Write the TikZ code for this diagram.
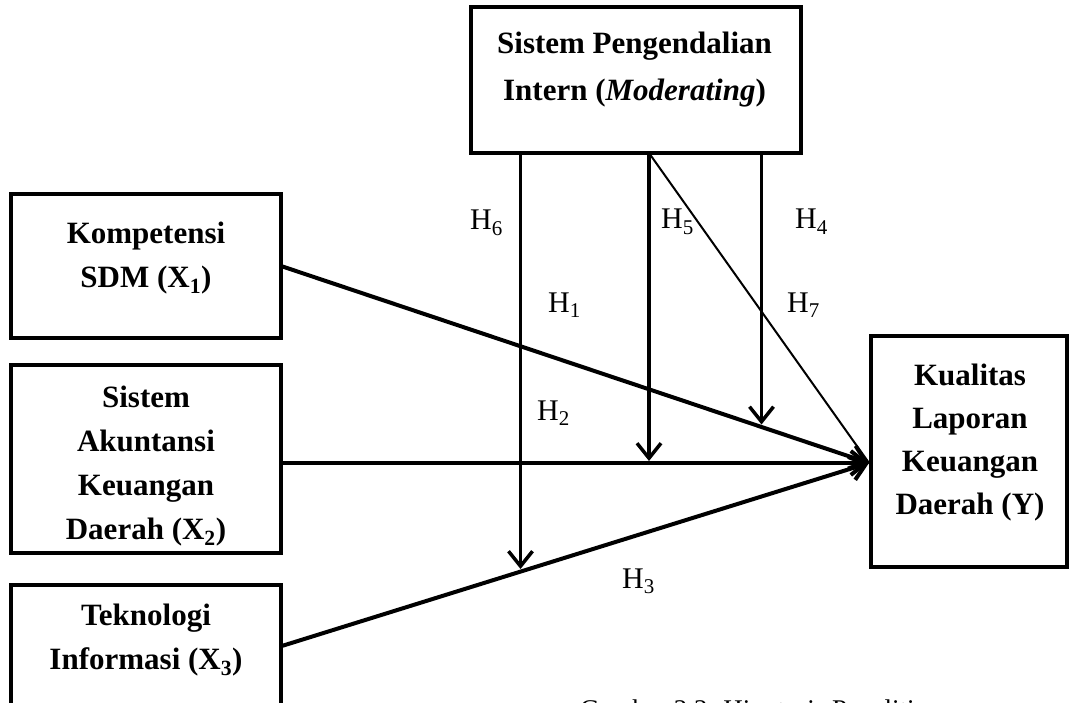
\documentclass[tikz,border=0pt]{standalone}
\usepackage{fontspec}
\setmainfont{Liberation Serif}
\usetikzlibrary{arrows.meta}
\tikzset{
  box/.style={draw, line width=4pt, outer sep=0pt, inner sep=0pt, rectangle},
  boxtext/.style={align=center, inner sep=0pt, font=\bfseries\fontsize{31}{44}\selectfont},
  hlab/.style={anchor=base west, inner sep=0pt, font=\fontsize{30}{36}\selectfont},
  mainarrow/.style={line width=4pt, -{Straight Barb[length=15pt,width=24pt]}},
  modarrow/.style={line width=3.5pt, -{Straight Barb[length=15pt,width=24pt]}},
  thinline/.style={line width=2pt}
}
\begin{document}
\begin{tikzpicture}[x=1pt,y=-1pt]
\useasboundingbox (0,0) rectangle (1070,703);
\clip (0,0) rectangle (1070,703);
% boxes
\node[box, minimum width=329.5pt, minimum height=146pt] (mod) at (635.75,80) {};
\node[box, minimum width=270pt, minimum height=143pt] (x1) at (146,266) {};
\node[box, minimum width=270pt, minimum height=187.5pt] (x2) at (146,458.75) {};
\node[box, minimum width=270pt, minimum height=123.5pt] (x3) at (146,646.25) {};
\node[box, minimum width=196pt, minimum height=231pt] (y) at (969,451.5) {};
% box texts
\node[boxtext, font=\bfseries\fontsize{31}{47}\selectfont] (modt) at (634.5,70) {Sistem Pengendalian\\Intern (\textit{Moderating})};
\node[boxtext] (x1t) at (146,258.5) {Kompetensi\\SDM (X\textsubscript{1})};
\node[boxtext] (x2t) at (146,466) {Sistem\\Akuntansi\\Keuangan\\Daerah (X\textsubscript{2})};
\node[boxtext] (x3t) at (146,640) {Teknologi\\Informasi (X\textsubscript{3})};
\node[boxtext, font=\bfseries\fontsize{31}{42.7}\selectfont] (yt) at (970,442.5) {Kualitas\\Laporan\\Keuangan\\Daerah (Y)};
% connector points
\coordinate (hub) at (869,463);
\coordinate (t6) at (520.5,569);
\coordinate (t5) at (649,461);
\coordinate (t4) at (761.5,424.5);
% main arrows
\draw[mainarrow] (x1.east) -- (hub);
\draw[mainarrow] (x2.east |- hub) -- (hub);
\draw[mainarrow] (x3.east) -- (hub);
% moderating arrows
\draw[modarrow] (mod.south -| t6) -- (t6);
\draw[modarrow] (mod.south -| t5) -- (t5);
\draw[modarrow] (mod.south -| t4) -- (t4);
\draw[thinline] (mod.south -| t5) -- (hub);
% hypothesis labels
\node[hlab] (h6) at (470,230) {H\textsubscript{6}};
\node[hlab] (h5) at (661,229) {H\textsubscript{5}};
\node[hlab] (h4) at (795,229) {H\textsubscript{4}};
\node[hlab] (h1) at (548,312) {H\textsubscript{1}};
\node[hlab] (h7) at (787,312) {H\textsubscript{7}};
\node[hlab] (h2) at (537,420) {H\textsubscript{2}};
\node[hlab] (h3) at (622,588) {H\textsubscript{3}};
% caption (cut off at the bottom edge)
\node[anchor=base west, inner sep=0pt, font=\fontsize{27}{32}\selectfont] (cap) at (580,718.5) {Gambar 2.2. Hipotesis Penelitian};
\end{tikzpicture}
\end{document}
